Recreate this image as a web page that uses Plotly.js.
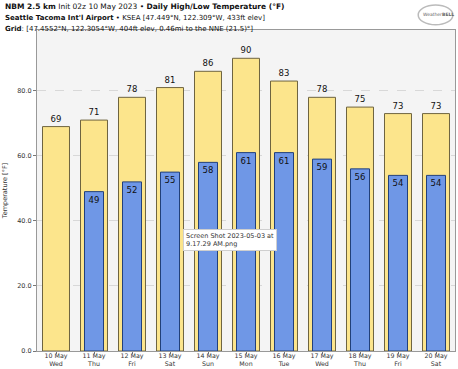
<!DOCTYPE html>
<html><head><meta charset="utf-8">
<script src="https://cdn.plot.ly/plotly-3.0.1.min.js"></script>
<style>html,body{margin:0;padding:0;background:#fff}#c{width:458px;height:369px}</style>
</head><body><div id="c"></div>
<script>
const dates = ["10 May","11 May","12 May","13 May","14 May","15 May","16 May","17 May","18 May","19 May","20 May"];
const weekdays = ["Wed","Thu","Fri","Sat","Sun","Mon","Tue","Wed","Thu","Fri","Sat"];
const highs = [69,71,78,81,86,90,83,78,75,73,73];
const lows = [null,49,52,55,58,61,61,59,56,54,54];
const yTicks = [0,20,40,60,80];

const cats = dates.map((d,i)=>d+"<br>"+weekdays[i]);

const traces = [
 {type:'bar', x:cats, y:highs, width:0.71, marker:{color:'#fce58c', line:{color:'#6e6440', width:1}},
  text:highs.map(String), textposition:'outside', textfont:{size:8.5,color:'#111',family:'DejaVu Sans'}, cliponaxis:false, hoverinfo:'skip'},
 {type:'bar', x:cats, y:lows, width:0.5, marker:{color:'#6f97e6', line:{color:'#22407a', width:1}},
  text:lows.map(v=>v==null?'':String(v)), textposition:'inside', insidetextanchor:'end', textangle:0, constraintext:'none',
  textfont:{size:8.5,color:'#111',family:'DejaVu Sans'}, hoverinfo:'skip'}
];

const layout = {
 width:458, height:369, showlegend:false, barmode:'overlay',
 paper_bgcolor:'#fff', plot_bgcolor:'#f4f4f4',
 margin:{l:37,r:3,t:30,b:18},
 font:{family:'DejaVu Sans', size:6.5, color:'#333'},
 xaxis:{type:'category', showgrid:false, ticks:'outside', ticklen:2, tickcolor:'#777', tickfont:{size:6.3,color:'#333'},
  ticklabelstandoff:-4, showline:true, linecolor:'#999', mirror:true, linewidth:1},
 yaxis:{range:[0,98.7], tickvals:yTicks, ticktext:yTicks.map(v=>v.toFixed(1)), ticks:'outside', ticklen:3, tickcolor:'#777',
  tickfont:{size:6.5,color:'#333'}, showgrid:true, gridcolor:'#d8d8d8', griddash:'dash', zeroline:false,
  showline:true, linecolor:'#999', mirror:true, linewidth:1,
  title:{text:'Temperature [°F]', font:{size:6.5,color:'#333'}, standoff:8}},
 annotations:[
  {xref:'paper', yref:'paper', x:-0.082, y:1.0, xanchor:'left', yanchor:'bottom', yshift:17, align:'left', showarrow:false,
   text:'<b>NBM 2.5 km</b> Init 02z 10 May 2023 • <b>Daily High/Low Temperature (°F)</b>', font:{size:7.5,color:'#111'}},
  {xref:'paper', yref:'paper', x:-0.082, y:1.0, xanchor:'left', yanchor:'bottom', yshift:6, align:'left', showarrow:false,
   text:'<b>Seattle Tacoma Int\'l Airport</b> • KSEA [47.449°N, 122.309°W, 433ft elev]', font:{size:7,color:'#111'}},
  {xref:'paper', yref:'paper', x:-0.082, y:1.0, xanchor:'left', yanchor:'bottom', yshift:-5, align:'left', showarrow:false,
   text:'<b>Grid</b>: [47.4552°N, 122.3054°W, 404ft elev, 0.46mi to the NNE (21.5)°]', font:{size:7,color:'#111'}},
  {xref:'paper', yref:'paper', x:0.96, y:1.047, xanchor:'center', yanchor:'middle', showarrow:false,
   text:'Weather<b>BELL</b>', font:{size:4.5,color:'#666'}},
  {xref:'paper', yref:'paper', x:0.349, y:0.345, xanchor:'left', yanchor:'middle', align:'left', showarrow:false,
   text:'Screen Shot 2023-05-03 at<br>9.17.29 AM.png', font:{size:6.5,color:'#333'}, bgcolor:'#ffffff', bordercolor:'#cfcfcf', borderwidth:1, borderpad:2}
 ],
 shapes:[
  {type:'circle', xref:'paper', yref:'paper', x0:0.912, x1:0.995, y0:1.016, y1:1.078, line:{color:'#bbb',width:1.5}, fillcolor:'rgba(0,0,0,0)'}
 ]
};
Plotly.newPlot('c', traces, layout, {displayModeBar:false, staticPlot:true});
</script></body></html>
